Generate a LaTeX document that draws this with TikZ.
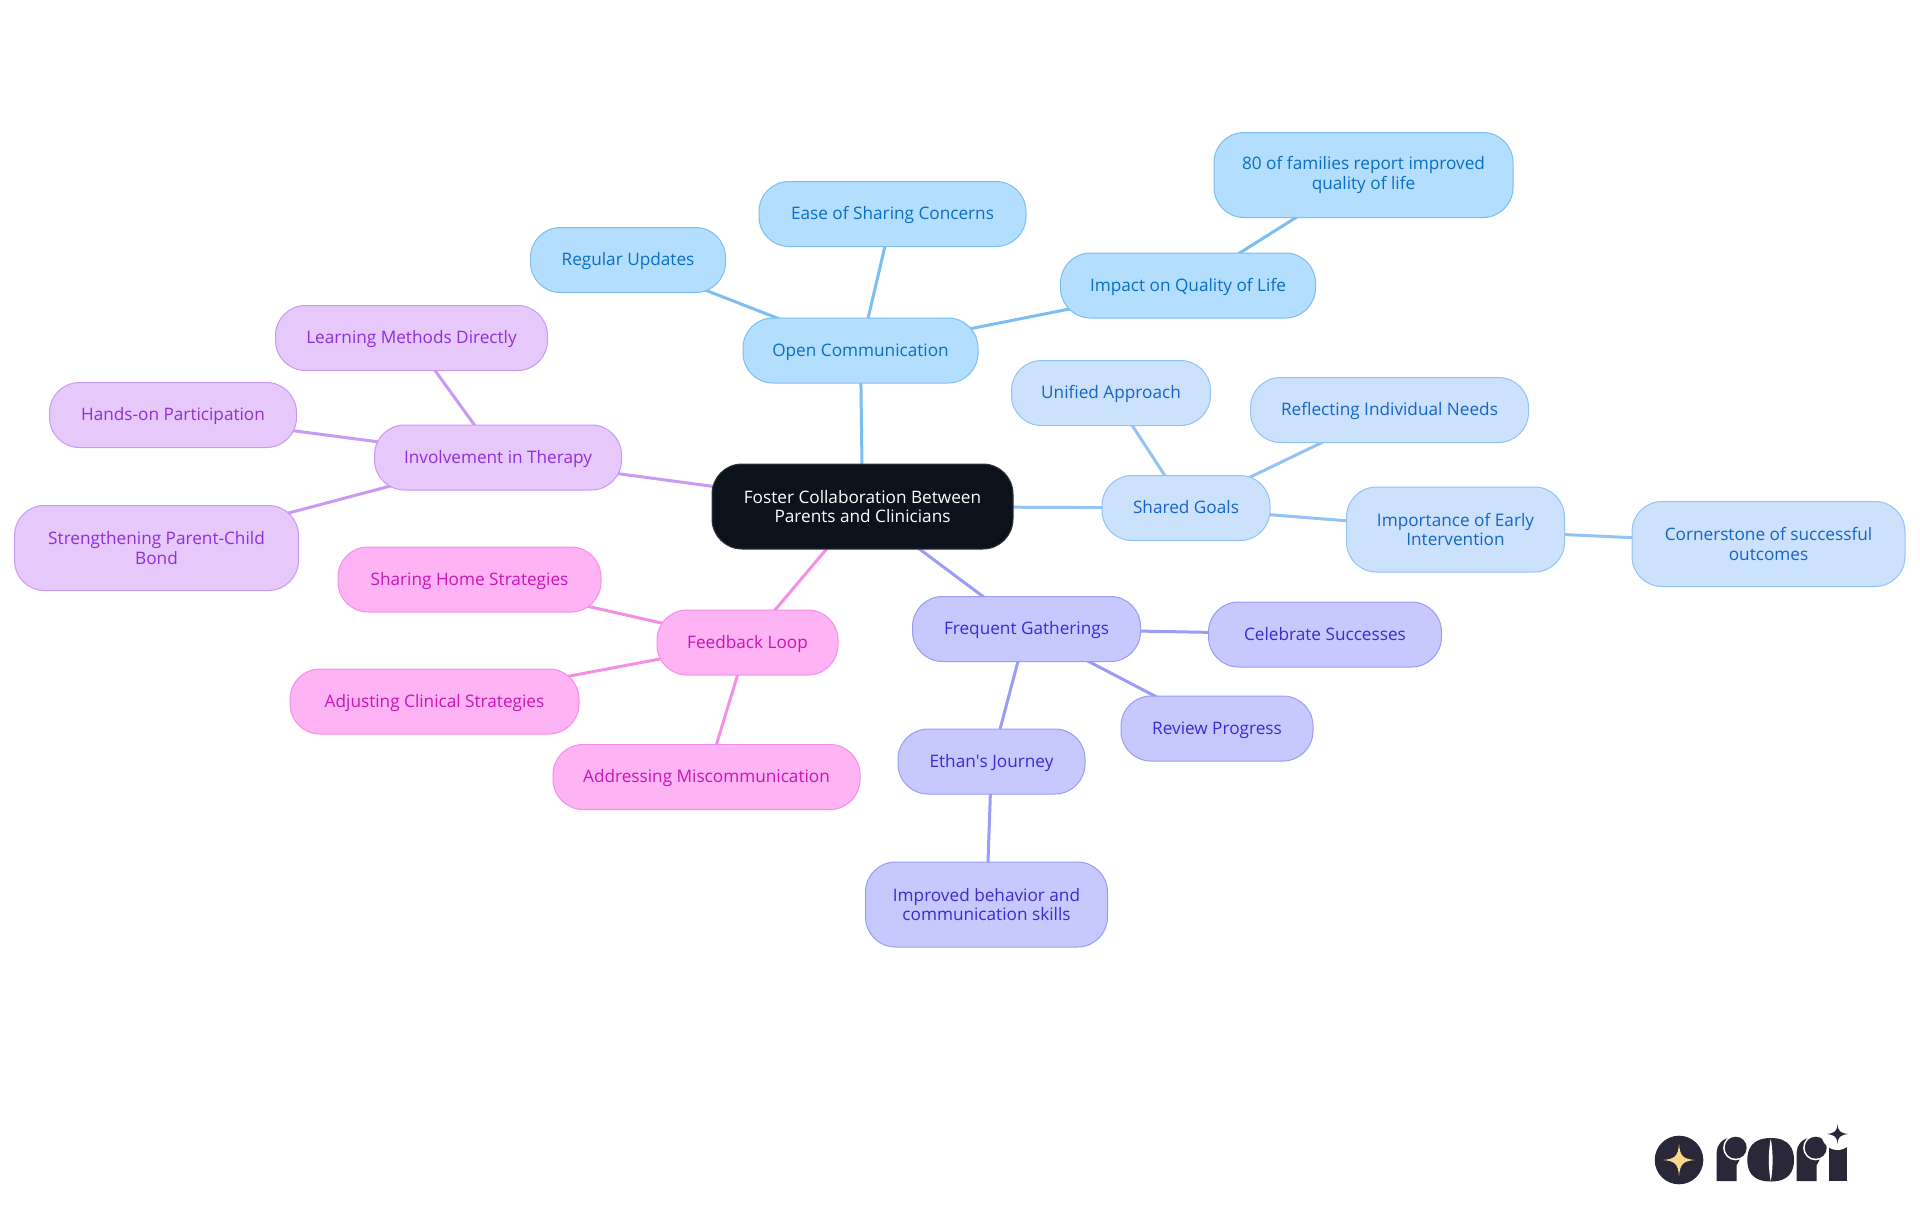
\documentclass[tikz,border=0pt]{standalone}
\usepackage{fontspec}
\setmainfont{Open Sans}
\usetikzlibrary{backgrounds}
\definecolor{bluefill}{HTML}{B3DEFE}
\definecolor{bluetext}{HTML}{0B6EC4}
\definecolor{blueline}{HTML}{7CBEF2}
\definecolor{skyfill}{HTML}{CCE1FB}
\definecolor{skytext}{HTML}{1565C8}
\definecolor{skyline}{HTML}{93C3F5}
\definecolor{indfill}{HTML}{C7C8FE}
\definecolor{indtext}{HTML}{3B2BD0}
\definecolor{indline}{HTML}{9A9CF5}
\definecolor{pinkfill}{HTML}{FEB3F4}
\definecolor{pinktext}{HTML}{C915B5}
\definecolor{pinkline}{HTML}{F58FE6}
\definecolor{purpfill}{HTML}{E6C8FB}
\definecolor{purptext}{HTML}{8F2FD8}
\definecolor{purpline}{HTML}{C89AF5}
\definecolor{rootfill}{HTML}{0B121B}
\definecolor{logodark}{HTML}{2A2838}
\definecolor{logostar}{HTML}{FBD98A}
\tikzset{
mapnode/.style = {inner sep=0pt, rounded corners=15pt, line width=0.5pt, text height=7.6pt, text depth=2pt, font=\fontsize{8.6}{9.6}\selectfont},
twoline/.style = {align=center, text height=, text depth=},
rootnode/.style = {mapnode, fill=rootfill, draw=rootfill!85!white, text=white},
opennode/.style = {mapnode, fill=bluefill, draw=blueline, text=bluetext},
goalnode/.style = {mapnode, fill=skyfill, draw=skyline, text=skytext},
gathnode/.style = {mapnode, fill=indfill, draw=indline, text=indtext},
feednode/.style = {mapnode, fill=pinkfill, draw=pinkline, text=pinktext},
involnode/.style = {mapnode, fill=purpfill, draw=purpline, text=purptext},
openlink/.style = {draw=blueline, line width=1.5pt},
goallink/.style = {draw=skyline, line width=1.5pt},
gathlink/.style = {draw=indline, line width=1.5pt},
feedlink/.style = {draw=pinkline, line width=1.5pt},
involink/.style = {draw=purpline, line width=1.5pt},
box/.style 2 args = {minimum width=#1*0.5pt, minimum height=#2*0.5pt}
}
\begin{document}
\begin{tikzpicture}[x=0.5pt,y=-0.5pt]
  \useasboundingbox (0,0) rectangle (1920,1215);
  % root
  \node [rootnode, twoline, box={301}{85}] (root) at (862.5,506.5) {Foster Collaboration Between\\Parents and Clinicians};
  % open communication
  \node [opennode, box={235}{65}] (open) at (860.5,350.5) {Open Communication};
  \node [opennode, box={195}{65}] (updates) at (628,260) {Regular Updates};
  \node [opennode, box={267}{65}] (ease) at (892.5,214) {Ease of Sharing Concerns};
  \node [opennode, box={255}{65}] (impact) at (1188,285.5) {Impact on Quality of Life};
  \node [opennode, twoline, box={299}{85}] (families) at (1363.5,175) {80 of families report improved\\quality of life};
  % shared goals
  \node [goalnode, box={168}{65}] (goals) at (1186,508) {Shared Goals};
  \node [goalnode, box={199}{65}] (unified) at (1111,393) {Unified Approach};
  \node [goalnode, box={278}{65}] (needs) at (1389.5,410) {Reflecting Individual Needs};
  \node [goalnode, twoline, box={218}{85}] (early) at (1455.5,529.5) {Importance of Early\\Intervention};
  \node [goalnode, twoline, box={273}{85}] (corner) at (1768.5,544) {Cornerstone of successful\\outcomes};
  % gatherings
  \node [gathnode, box={228}{65}] (gather) at (1026.5,629) {Frequent Gatherings};
  \node [gathnode, box={233}{65}] (success) at (1325,634.5) {Celebrate Successes};
  \node [gathnode, box={192}{65}] (review) at (1217,728.5) {Review Progress};
  \node [gathnode, box={187}{65}] (ethan) at (991.5,761.5) {Ethan\textquotesingle{}s Journey};
  \node [gathnode, twoline, box={242}{85}] (skills) at (986.5,904.5) {Improved behavior and\\communication skills};
  % feedback
  \node [feednode, box={181}{65}] (feedback) at (747.5,642.5) {Feedback Loop};
  \node [feednode, box={263}{65}] (home) at (469.5,579.5) {Sharing Home Strategies};
  \node [feednode, box={289}{65}] (clinical) at (434.5,701.5) {Adjusting Clinical Strategies};
  \node [feednode, box={307}{65}] (miscomm) at (706.5,777) {Addressing Miscommunication};
  % therapy
  \node [involnode, box={247}{65}] (therapy) at (498,457.5) {Involvement in Therapy};
  \node [involnode, box={272}{65}] (learning) at (411.5,338) {Learning Methods Directly};
  \node [involnode, box={247}{65}] (hands) at (173,415) {Hands-on Participation};
  \node [involnode, twoline, box={284}{85}] (bond) at (156.5,548) {Strengthening Parent-Child\\Bond};
  \begin{scope}[on background layer]
    \draw [openlink] (root.center) -- (open.center);
    \draw [openlink] (open.center) -- (updates.center);
    \draw [openlink] (open.center) -- (ease.center);
    \draw [openlink] (open.center) -- (impact.center);
    \draw [openlink] (impact.center) -- (families.center);
    \draw [goallink] (root.center) -- (goals.center);
    \draw [goallink] (goals.center) -- (unified.center);
    \draw [goallink] (goals.center) -- (needs.center);
    \draw [goallink] (goals.center) -- (early.center);
    \draw [goallink] (early.center) -- (corner.center);
    \draw [gathlink] (root.center) -- (gather.center);
    \draw [gathlink] (gather.center) -- (success.center);
    \draw [gathlink] (gather.center) -- (review.center);
    \draw [gathlink] (gather.center) -- (ethan.center);
    \draw [gathlink] (ethan.center) -- (skills.center);
    \draw [feedlink] (root.center) -- (feedback.center);
    \draw [feedlink] (feedback.center) -- (home.center);
    \draw [feedlink] (feedback.center) -- (clinical.center);
    \draw [feedlink] (feedback.center) -- (miscomm.center);
    \draw [involink] (root.center) -- (therapy.center);
    \draw [involink] (therapy.center) -- (learning.center);
    \draw [involink] (therapy.center) -- (hands.center);
    \draw [involink] (therapy.center) -- (bond.center);
  \end{scope}
  % logo
  \fill [logodark] (1679,1160) circle [radius=24.3];
  \fill [logostar] (1679,1144) .. controls (1680,1156) and (1683,1159) .. (1695,1160) .. controls (1683,1161) and (1680,1164) .. (1679,1176) .. controls (1678,1164) and (1675,1161) .. (1663,1160) .. controls (1675,1159) and (1678,1156) .. (1679,1144) -- cycle;
  \foreach \dx in {0,80}{
    \fill [logodark] (1716.7+\dx,1181) -- (1716.7+\dx,1152) .. controls (1716.7+\dx,1145) and (1722+\dx,1138.5) .. (1731+\dx,1137.5) -- (1745+\dx,1150) -- (1736.7+\dx,1165) -- (1736.7+\dx,1181) -- cycle;
    \fill [white] (1735.7+\dx,1147.7) circle [radius=12.6];
    \fill [logodark] (1735.7+\dx,1147.7) circle [radius=11];
  }
  \fill [logodark] (1771,1138) .. controls (1751,1138) and (1747.3,1150) .. (1747.3,1160) .. controls (1747.3,1170) and (1751,1181.5) .. (1771,1181.5) .. controls (1790,1181.5) and (1794,1170) .. (1794,1160) .. controls (1794,1150) and (1790,1138) .. (1771,1138) -- cycle;
  \fill [white] (1770.7,1139) .. controls (1768.2,1150) and (1768.2,1170) .. (1770.7,1181) .. controls (1773.2,1170) and (1773.2,1150) .. (1770.7,1139) -- cycle;
  \fill [logodark] (1829,1181) -- (1829,1147) -- (1846.7,1147) -- (1846.7,1181) -- cycle;
  \fill [white] (1837.5,1134) circle [radius=16];
  \fill [logodark] (1837.5,1124) .. controls (1838,1131) and (1840,1133) .. (1848,1134) .. controls (1840,1135) and (1838,1137) .. (1837.5,1144) .. controls (1837,1137) and (1835,1135) .. (1827,1134) .. controls (1835,1133) and (1837,1131) .. (1837.5,1124) -- cycle;
\end{tikzpicture}
\end{document}
